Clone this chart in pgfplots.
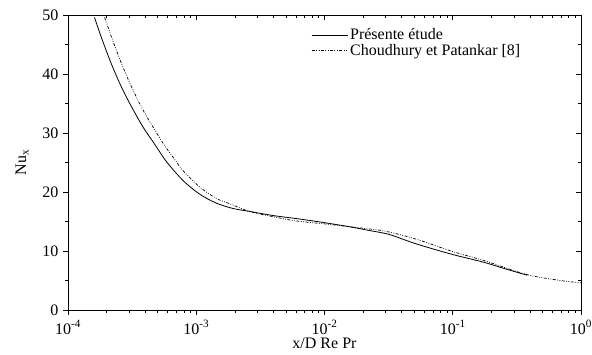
\documentclass[border=0pt]{standalone}
\usepackage{pgfplots}
\pgfplotsset{compat=1.18}
\usepackage{fontspec}
\setmainfont{Liberation Serif}
\begin{document}
\fontsize{16}{18}\selectfont
\begin{tikzpicture}[font=\fontsize{16}{18}\selectfont]
\begin{axis}[
  at={(0pt,0pt)}, anchor=south west, scale only axis,
  width=513pt, height=295pt,
  xmode=log, xmin=1e-4, xmax=1, ymin=0, ymax=50,
  ytick={0,10,20,30,40,50}, minor ytick={5,15,25,35,45},
  xtick={1e-4,1e-3,1e-2,1e-1,1},
  major tick length=5pt, minor tick length=3pt,
  every tick/.style={black, line width=0.6pt},
  axis line style={line width=0.7pt},
  tick label style={font=\fontsize{16}{18}\selectfont},
  label style={font=\fontsize{16}{18}\selectfont},
  yticklabel style={xshift=1pt},
  tick pos=left, tick align=outside,
  xticklabels={10\textsuperscript{-4},10\textsuperscript{-3},10\textsuperscript{-2},10\textsuperscript{-1},10\textsuperscript{0}},
  /pgf/number format/assume math mode=true,
  xlabel={x/D Re Pr}, ylabel={Nu\textsubscript{x}},
  xlabel style={yshift=7pt},
  ylabel style={yshift=3pt},
  legend style={draw=none, fill=none, at={(0.472,0.965)}, anchor=north west,
    font=\fontsize{16}{17}\selectfont, row sep=-2pt, inner sep=1pt},
  legend cell align=left,
  legend image code/.code={\draw[#1] (0pt,0pt) -- (36pt,0pt);},
]
\addplot[black, line width=0.8pt, smooth, tension=0.5] coordinates {
(1.61e-4,49.6) (1.82e-4,46.2) (2.18e-4,41.7) (2.61e-4,37.8) (3.12e-4,34.5)
(3.85e-4,31.0) (4.74e-4,28.1) (5.88e-4,25.1) (7.93e-4,21.9) (1.07e-3,19.6)
(1.44e-3,18.1) (1.94e-3,17.2) (2.62e-3,16.7) (4e-3,16.0)
(6.5e-3,15.4) (1e-2,14.8) (1.58e-2,14.1) (2.2e-2,13.5) (3.2e-2,12.8)
(5.2e-2,11.2) (0.1,9.4) (0.174,8.1) (0.264,6.9) (0.38,5.9)
};
\addlegendentry{Présente étude}
\addplot[black, line width=0.7pt, smooth, tension=0.5,
  dash pattern=on 3pt off 1.5pt on 0.8pt off 1.5pt on 0.8pt off 1.5pt] coordinates {
(1.93e-4,49.6) (2.24e-4,45.6) (2.69e-4,41.1) (3.21e-4,37.3) (3.96e-4,33.4)
(5.5e-4,28.3) (6.6e-4,25.9) (7.9e-4,23.6) (1.07e-3,20.8) (1.44e-3,18.9)
(1.83e-3,18.0) (2.6e-3,16.7) (4e-3,15.8)
(6e-3,15.1) (1e-2,14.6) (1.58e-2,14.1) (2.9e-2,13.4) (5.2e-2,12.0)
(0.1,9.9) (0.174,8.4) (0.38,6.0) (0.69,5.0) (1.0,4.6)
};
\addlegendentry{Choudhury et Patankar [8]}
\end{axis}
\begin{axis}[
  at={(0pt,0pt)}, anchor=south west, scale only axis,
  width=513pt, height=295pt,
  xmode=log, xmin=1e-4, xmax=1, ymin=0, ymax=50,
  ytick={0,10,20,30,40,50}, minor ytick={5,15,25,35,45},
  xtick={1e-4,1e-3,1e-2,1e-1,1},
  major tick length=5pt, minor tick length=3pt,
  every tick/.style={black, line width=0.6pt},
  axis line style={line width=0.7pt},
  tick pos=right, tick align=inside,
  xticklabels={}, yticklabels={},
]
\end{axis}
\pgfresetboundingbox
\useasboundingbox (-68pt,-45pt) rectangle (524pt,310pt);
\end{tikzpicture}
\end{document}
